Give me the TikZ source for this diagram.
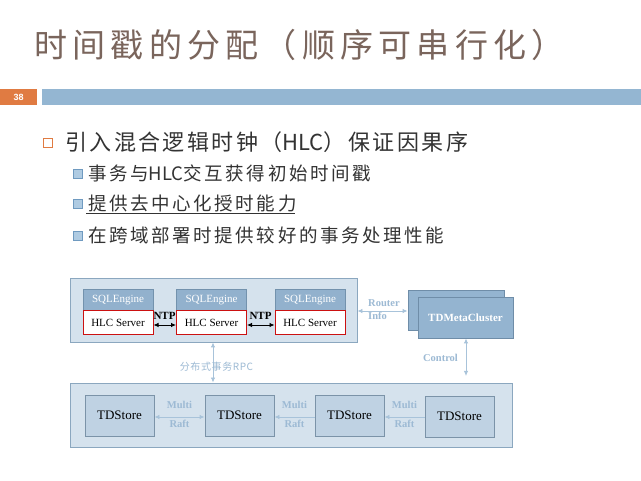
\documentclass[tikz,border=0pt]{standalone}
\usepackage{fontspec}
\setmainfont{Liberation Serif}
\newfontfamily\cjk{Noto Sans CJK SC}
\newfontfamily\cjktitle{Noto Sans CJK SC}[LetterSpace=16]
\newfontfamily\cjkbody{Noto Sans CJK SC}[LetterSpace=11]
\newfontfamily\cjksub{Noto Sans CJK SC}[LetterSpace=14]
\newfontfamily\cjklabel{Noto Sans CJK SC}[LetterSpace=6]
\newfontfamily\numfont{Liberation Sans}
\newcommand{\latinpart}[1]{{\addfontfeature{LetterSpace=0}#1}}
\usetikzlibrary{arrows.meta,calc}
\definecolor{titlec}{HTML}{7A655C}
\definecolor{bodyc}{HTML}{333333}
\definecolor{orangec}{HTML}{E07B42}
\definecolor{barc}{HTML}{94B6D2}
\definecolor{outerfill}{HTML}{D5E2ED}
\definecolor{outerdraw}{HTML}{8BA7BF}
\definecolor{sqlfill}{HTML}{92B1CD}
\definecolor{sqldraw}{HTML}{7392AD}
\definecolor{hlcdraw}{HTML}{CC1111}
\definecolor{storefill}{HTML}{BFD2E3}
\definecolor{storedraw}{HTML}{7B93A8}
\definecolor{metafill}{HTML}{94B4D0}
\definecolor{metadraw}{HTML}{6F8DA8}
\definecolor{arrc}{HTML}{A8C3DA}
\definecolor{lblc}{HTML}{9DBAD4}
\definecolor{bsqfill}{HTML}{AFCBE2}
\definecolor{bsqdraw}{HTML}{6F9AC0}
\tikzset{
  outerbox/.style={draw=outerdraw,fill=outerfill,line width=0.9pt,inner sep=0pt},
  sqlbox/.style={draw=sqldraw,fill=sqlfill,line width=0.8pt,minimum width=70pt,minimum height=22pt,inner sep=0pt,text=white,font=\fontsize{11}{12}\selectfont},
  hlcbox/.style={draw=hlcdraw,fill=white,line width=1pt,minimum width=70pt,minimum height=24pt,inner sep=0pt,text=black,font=\fontsize{11}{12}\selectfont},
  storebox/.style={draw=storedraw,fill=storefill,line width=0.9pt,minimum width=69pt,minimum height=41pt,inner sep=0pt,text=black,font=\fontsize{13}{14}\selectfont},
  metabox/.style={draw=metadraw,fill=metafill,line width=0.9pt,inner sep=0pt},
  lbl/.style={text=lblc,font=\bfseries\fontsize{10.5}{12}\selectfont,inner sep=0pt},
  ntplbl/.style={text=black,font=\bfseries\fontsize{11}{12}\selectfont,inner sep=0pt},
  larr/.style={draw=arrc,line width=0.9pt},
  tip/.style={-{Latex[length=5pt,width=4.5pt]}},
  dtip/.style={{Latex[length=5pt,width=4.5pt]}-{Latex[length=5pt,width=4.5pt]}},
  bsq/.style={draw=bsqdraw,fill=bsqfill,line width=1.6pt,minimum size=9pt,inner sep=0pt},
  osq/.style={draw=orangec,line width=1.1pt,minimum size=9.5pt,inner sep=0pt},
  bodytxt/.style={anchor=west,inner sep=0pt,text=bodyc},
}
\begin{document}
\begin{tikzpicture}[x=1pt,y=-1pt]
\useasboundingbox[fill=white] (0,0) rectangle (641,481);
% title
\node[anchor=west,inner sep=0pt,text=titlec,font=\cjktitle\fontsize{33}{40}\selectfont] (title) at (34,45) {时间戳的分配（顺序可串行化）};
% header bar
\node[fill=orangec,minimum width=37pt,minimum height=16pt,inner sep=0pt,anchor=north west,text=white,font=\numfont\bfseries\fontsize{9}{10}\selectfont] (pagenum) at (0,89) {38};
\node[fill=barc,minimum width=599pt,minimum height=16pt,inner sep=0pt,anchor=north west] (bar) at (42,89) {};
% bullets
\node[osq] (b1) at (48,143) {};
\node[bodytxt,font=\cjkbody\fontsize{22}{26}\selectfont] (t1) at (65,142) {引入混合逻辑时钟（\latinpart{HLC}）保证因果序};
\node[bsq] (b2) at (78,174) {};
\node[bodytxt,font=\cjksub\fontsize{18.5}{22}\selectfont] (t2) at (88,173) {事务与\latinpart{HLC}交互获得初始时间戳};
\node[bsq] (b3) at (78,204) {};
\node[bodytxt,font=\cjksub\fontsize{18.5}{22}\selectfont] (t3) at (88,203) {提供去中心化授时能力};
\draw[bodyc,line width=0.8pt] ($(t3.west)+(-2,10)$) -- ($(t3.east)+(-2,10)$);
\node[bsq] (b4) at (78,236) {};
\node[bodytxt,font=\cjksub\fontsize{18.5}{22}\selectfont] (t4) at (88,235) {在跨域部署时提供较好的事务处理性能};
% top outer box
\node[outerbox,minimum width=287pt,minimum height=64pt] (top) at (213.5,310) {};
\node[sqlbox] (s1) at (118,300) {SQLEngine};
\node[hlcbox] (h1) at (118,323) {HLC Server};
\node[sqlbox] (s2) at (211.5,300) {SQLEngine};
\node[hlcbox] (h2) at (211.5,323) {HLC Server};
\node[sqlbox] (s3) at (310,300) {SQLEngine};
\node[hlcbox] (h3) at (310,323) {HLC Server};
\draw[dtip,black,line width=0.8pt] ($(h1.east)+(0,2)$) -- ($(h2.west)+(0,2)$);
\draw[dtip,black,line width=0.8pt] ($(h2.east)+(0,2)$) -- ($(h3.west)+(0,2)$);
\node[ntplbl] (ntp1) at (164.5,316) {NTP};
\node[ntplbl] (ntp2) at (260.5,316) {NTP};
% meta cluster
\node[metabox,minimum width=96pt,minimum height=40pt] (metaback) at (456,310) {};
\node[metabox,minimum width=95pt,minimum height=41pt,text=white,font=\bfseries\fontsize{11}{12}\selectfont] (meta) at (465.5,317.5) {TDMetaCluster};
\draw[larr,dtip] (top.east |- 0,311) -- (metaback.west |- 0,311);
\node[lbl,anchor=west] (router) at (368,303) {Router};
\node[lbl,anchor=west] (info) at (368,316) {Info};
% control
\coordinate (ctrlend) at (466,376);
\draw[larr,dtip] (meta.south -| ctrlend) -- (ctrlend);
\node[lbl] (control) at (440.5,358) {Control};
% bottom outer box
\node[outerbox,minimum width=442pt,minimum height=64pt] (bot) at (291,415) {};
\node[storebox] (d1) at (119.5,415.5) {TDStore};
\node[storebox] (d2) at (239.5,415.5) {TDStore};
\node[storebox] (d3) at (349.5,415.5) {TDStore};
\node[storebox] (d4) at (459.5,416.5) {TDStore};
% RPC
\draw[larr,dtip] (top.south -| 213,0) -- (bot.north -| 213,0);
\node[text=lblc,font=\cjklabel\fontsize{10}{12}\selectfont,inner sep=0pt] (rpc) at (216.5,367) {分布式事务RPC};
% raft arrows
\draw[larr,dtip] (d1.east |- 0,417) -- (d2.west |- 0,417);
\draw[larr,tip] (d3.west |- 0,417) -- (d2.east |- 0,417);
\draw[larr,tip] (d4.west |- 0,417) -- (d3.east |- 0,417);
\node[lbl] (m1) at (179.5,405) {Multi};
\node[lbl] (r1) at (179.5,424) {Raft};
\node[lbl] (m2) at (294.5,405) {Multi};
\node[lbl] (r2) at (294.5,424) {Raft};
\node[lbl] (m3) at (404.5,405) {Multi};
\node[lbl] (r3) at (404.5,424) {Raft};
\end{tikzpicture}
\end{document}
